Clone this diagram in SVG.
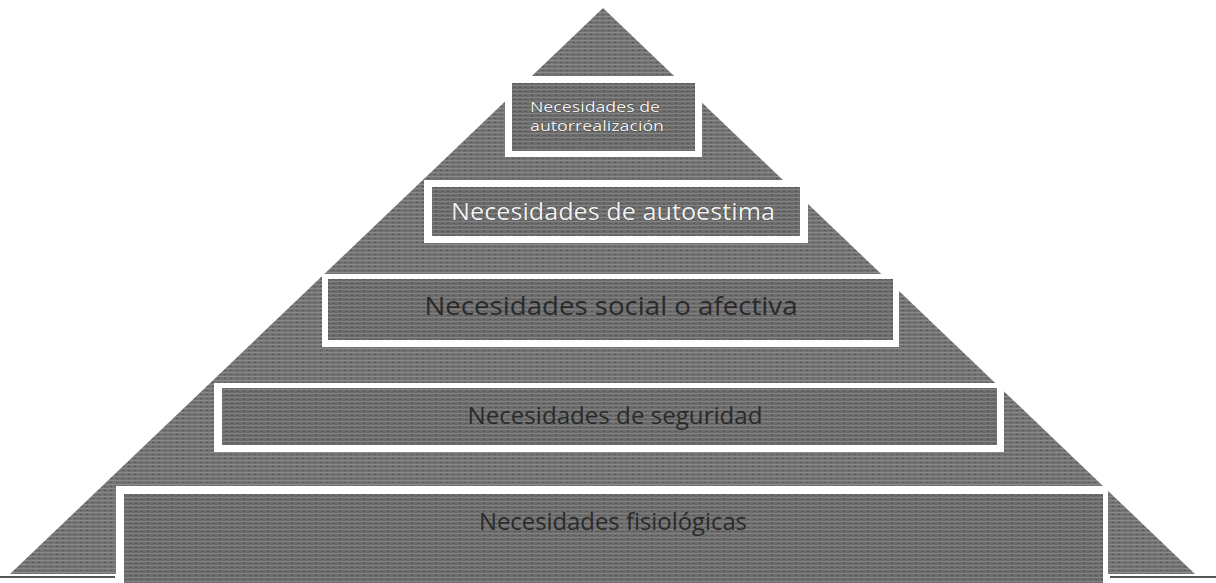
<svg xmlns="http://www.w3.org/2000/svg" width="1216" height="583" viewBox="0 0 1216 583">
<defs>
<pattern id="tex" width="6" height="4" patternUnits="userSpaceOnUse">
<rect width="6" height="4" fill="#737373"/>
<rect y="0" width="6" height="1" fill="#8a8a8a"/>
<rect x="2" y="2" width="2" height="1" fill="#595959"/>
</pattern>
<pattern id="tex2" width="6" height="4" patternUnits="userSpaceOnUse">
<rect width="6" height="4" fill="#6c6c6c"/>
<rect y="1" width="6" height="1" fill="#828282"/>
<rect x="3" y="3" width="2" height="1" fill="#555555"/>
</pattern>
</defs>
<style>
.frame{fill:#ffffff}
.inner{fill:url(#tex2)}
.lbl{font-family:"Open Sans","Liberation Sans",sans-serif;text-anchor:middle;dominant-baseline:central}
.light{fill:#f2f2f2;stroke:#333;stroke-width:0.7;paint-order:stroke}
.dark{fill:#2a2a2a}
.base{stroke:#555;stroke-width:2}
</style>
<rect width="1216" height="583" fill="#ffffff"/>
<g id="pyramid">
<polygon points="603,8 10,574 1195,574" fill="url(#tex)"/>
<line class="base" x1="0" y1="577" x2="115" y2="577"/>
<line class="base" x1="1110" y1="577" x2="1216" y2="577"/>
</g>
<g id="autorrealizacion">
<rect class="frame" x="505" y="76" width="197" height="81"/>
<rect class="inner" x="512" y="83" width="183" height="68"/>
<text class="lbl light" x="595" y="106" font-size="15" textLength="130" lengthAdjust="spacingAndGlyphs">Necesidades de</text>
<text class="lbl light" x="597" y="125" font-size="15" textLength="134" lengthAdjust="spacingAndGlyphs">autorrealización</text>
</g>
<g id="autoestima">
<rect class="frame" x="424" y="180" width="384" height="63"/>
<rect class="inner" x="432" y="187" width="368" height="49"/>
<text class="lbl light" x="613" y="211" font-size="23" textLength="324" lengthAdjust="spacingAndGlyphs">Necesidades de autoestima</text>
</g>
<g id="social">
<rect class="frame" x="322" y="274" width="577" height="73"/>
<rect class="inner" x="328" y="279" width="565" height="61"/>
<text class="lbl dark" x="611" y="305" font-size="25" textLength="373" lengthAdjust="spacingAndGlyphs">Necesidades social o afectiva</text>
</g>
<g id="seguridad">
<rect class="frame" x="214" y="383" width="790" height="69"/>
<rect class="inner" x="222" y="388" width="775" height="57"/>
<text class="lbl dark" x="615" y="414" font-size="24" textLength="295" lengthAdjust="spacingAndGlyphs">Necesidades de seguridad</text>
</g>
<g id="fisiologicas">
<rect class="frame" x="116" y="486" width="992" height="97"/>
<rect class="inner" x="124" y="494" width="979" height="89"/>
<text class="lbl dark" x="613" y="521" font-size="23" textLength="268" lengthAdjust="spacingAndGlyphs">Necesidades fisiológicas</text>
</g>
</svg>
